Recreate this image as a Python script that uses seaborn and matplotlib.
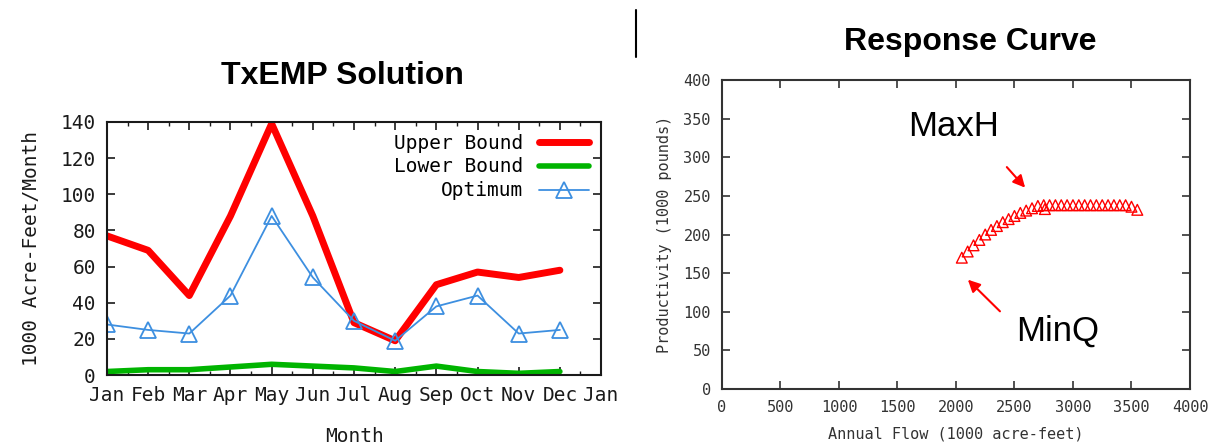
import numpy as np
import pandas as pd
import matplotlib
matplotlib.use("Agg")
import matplotlib.pyplot as plt
import seaborn as sns

# ---------------- data ----------------
month_labels = ["Jan", "Feb", "Mar", "Apr", "May", "Jun", "Jul", "Aug", "Sep", "Oct", "Nov", "Dec", "Jan"]
month_pos = [0, 1, 2, 3, 4, 5, 6, 7, 8, 9, 10, 11]
upper_bound = [77, 69, 44, 88, 139, 88, 29, 19, 50, 57, 54, 58]
lower_bound = [2, 3, 3, 4.5, 6, 5, 4, 2, 5, 2, 1, 2]
optimum = [28, 25, 23, 44, 88, 54, 30, 19, 38, 44, 23, 25]

flow = [2050, 2100, 2150, 2200, 2250, 2300, 2350, 2400, 2450, 2500, 2550, 2600,
        2650, 2700, 2750, 2760, 2800, 2850, 2900, 2950, 3000, 3050, 3100, 3150,
        3200, 3250, 3300, 3350, 3400, 3450, 3500, 3550]
productivity = [170, 178, 186, 193, 200, 206, 211, 216, 220, 224, 228, 231,
                234, 237, 238, 233, 238, 238, 238, 238, 238, 238, 238, 238,
                238, 238, 238, 238, 238, 238, 236, 232]

sns.set_theme(style="white")
plt.rcParams['font.family'] = ['DejaVu Sans']
plt.rcParams['text.color'] = 'black'
mono = 'DejaVu Sans Mono'

fig = plt.figure(figsize=(12.14, 4.45), dpi=100)

# ---------------- left chart ----------------
ax1 = fig.add_axes([0.0881, 0.157, 0.407, 0.569])
df1 = pd.DataFrame({"month": month_pos, "upper": upper_bound, "lower": lower_bound, "opt": optimum})
sns.lineplot(data=df1, x="month", y="upper", ax=ax1, color="#ff0000", linewidth=5, label="Upper Bound")
sns.lineplot(data=df1, x="month", y="lower", ax=ax1, color="#00b400", linewidth=4, label="Lower Bound")
sns.lineplot(data=df1, x="month", y="opt", ax=ax1, color="#3d8fe0", linewidth=1.3, marker="^",
             markersize=11, markerfacecolor="none", markeredgecolor="#3d8fe0", markeredgewidth=1.3,
             label="Optimum")
ax1.set_xlim(0, 12)
ax1.set_ylim(0, 140)
ax1.set_xticks(range(13))
ax1.set_xticklabels(month_labels, fontfamily=mono, fontsize=14)
ax1.set_xticks(np.arange(0, 12.01, 0.5), minor=True)
ax1.set_yticks(range(0, 141, 20))
ax1.set_yticklabels([str(v) for v in range(0, 141, 20)], fontfamily=mono, fontsize=14)
ax1.tick_params(axis="both", which="major", direction="in", length=6, width=1.2,
                top=True, right=True, bottom=True, left=True, pad=8, colors="#1a1a1a")
ax1.tick_params(axis="x", which="minor", direction="in", length=3, width=1, top=True, bottom=True,
                colors="#1a1a1a")
ax1.set_xlabel("Month", fontfamily=mono, fontsize=14, labelpad=16, color="#1a1a1a")
ax1.set_ylabel("1000 Acre-Feet/Month", fontfamily=mono, fontsize=14, labelpad=14, color="#1a1a1a")
for s in ax1.spines.values():
    s.set_color("#1a1a1a"); s.set_linewidth(1.5)
leg = ax1.legend(loc="upper right", frameon=False, markerfirst=False, prop={"family": mono, "size": 14},
                 handlelength=2.6, borderaxespad=0.2, labelspacing=0.25)
fig.text(0.282, 0.83, "TxEMP Solution", ha="center", va="center", fontsize=23, fontweight="bold",
         family="Liberation Sans", color="black")

# ---------------- right chart ----------------
ax2 = fig.add_axes([0.5947, 0.126, 0.3855, 0.694])
df2 = pd.DataFrame({"flow": flow, "prod": productivity})
sns.scatterplot(data=df2, x="flow", y="prod", ax=ax2, marker="^", s=60, facecolor="none",
                edgecolor="#ff0000", linewidth=1.0, legend=False)
ax2.set_xlim(0, 4000)
ax2.set_ylim(0, 400)
ax2.set_xticks(range(0, 4001, 500))
ax2.set_xticklabels([str(v) for v in range(0, 4001, 500)], fontfamily=mono, fontsize=11)
ax2.set_yticks(range(0, 401, 50))
ax2.set_yticklabels([str(v) for v in range(0, 401, 50)], fontfamily=mono, fontsize=11)
ax2.tick_params(axis="both", direction="in", length=6, width=1.2, top=True, right=True,
                bottom=True, left=True, pad=8, colors="#333333")
ax2.set_xlabel("Annual Flow (1000 acre-feet)", fontfamily=mono, fontsize=11, labelpad=8, color="#333333")
ax2.set_ylabel("Productivity (1000 pounds)", fontfamily=mono, fontsize=11, labelpad=8, color="#333333")
for s in ax2.spines.values():
    s.set_color("#333333"); s.set_linewidth(1.5)
ax2.annotate("", xy=(2607, 258), xytext=(2419, 290),
             arrowprops=dict(arrowstyle="-|>", color="#ff0000", lw=1.5, mutation_scale=18))
ax2.annotate("", xy=(2085, 144), xytext=(2393, 98),
             arrowprops=dict(arrowstyle="-|>", color="#ff0000", lw=1.5, mutation_scale=18))
ax2.text(1590, 327, "MaxH", fontsize=25, family="Liberation Sans", color="black")
ax2.text(2510, 63, "MinQ", fontsize=25, family="Liberation Sans", color="black")
fig.text(0.799, 0.905, "Response Curve", ha="center", va="center", fontsize=23, fontweight="bold",
         family="Liberation Sans", color="black")
fig.add_artist(matplotlib.lines.Line2D([0.524, 0.524], [0.872, 0.978], color="black", lw=1.5))

fig.savefig("out.png", dpi=100)
